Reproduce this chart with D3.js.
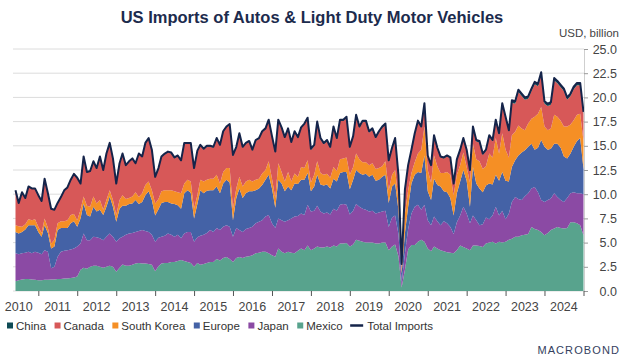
<!DOCTYPE html>
<html>
<head>
<meta charset="utf-8">
<script src="https://cdn.jsdelivr.net/npm/d3@7"></script>
<style>
  body { margin: 0; background: #fff; }
  svg { font-family: "Liberation Sans", Arial, sans-serif; }
</style>
</head>
<body>
<svg id="chart" width="624" height="361"></svg>
<script>
// US imports of autos & light duty motor vehicles, USD billion, monthly May 2010 - Dec 2024
const firstMonth = new Date(2010, 4, 1);
const lastMonthEnd = new Date(2025, 0, 1);

const mexico = [
  1.0, 1.1, 1.2, 1.25, 1.25, 1.2, 1.15, 1.1, 1.1, 1.15,
  1.15, 1.2, 1.2, 1.25, 1.25, 1.3, 1.3, 1.35, 1.4, 1.5,
  2.2, 2.4, 2.3, 2.5, 2.6, 2.6, 2.5, 2.4, 2.5, 2.6,
  2.5, 2.0, 2.4, 2.75, 2.6, 2.6, 2.7, 2.85, 2.9, 2.85,
  2.85, 2.8, 2.7, 2.05, 2.55, 2.85, 2.9, 2.9, 3.0, 3.0,
  3.1, 3.2, 3.1, 3.0, 2.9, 2.5, 2.9, 2.7, 2.8, 2.9,
  3.0, 3.0, 3.3, 3.15, 3.4, 3.5, 3.3, 3.0, 3.4, 3.5,
  3.4, 3.55, 3.6, 3.7, 3.9, 3.95, 4.05, 4.05, 3.9, 3.7,
  3.55, 4.4, 4.05, 3.9, 4.05, 3.95, 3.9, 4.15, 4.4, 4.2,
  4.7, 4.2, 4.4, 4.6, 4.5, 4.5, 4.6, 4.5, 4.7, 4.6,
  4.9, 4.9, 4.95, 4.6, 4.8, 5.3, 5.2, 5.1, 5.0, 5.0,
  5.0, 4.9, 4.9, 5.0, 5.0, 4.2, 4.6, 4.8, 3.6, 0.35,
  2.2, 4.3, 4.75, 4.75, 5.1, 5.3, 5.1, 4.4, 4.1, 4.6,
  4.4, 4.2, 4.1, 4.0, 3.95, 3.9, 4.2, 4.7, 4.55, 4.4,
  4.2, 4.7, 4.7, 4.65, 4.55, 4.9, 5.0, 5.1, 4.9, 5.1,
  5.0, 5.1, 5.3, 5.4, 5.6, 5.6, 5.75, 5.8, 5.9, 6.6,
  6.4, 6.3, 6.1, 5.75, 6.0, 6.3, 6.45, 6.6, 6.5, 6.45,
  6.5, 7.1, 7.1, 7.0, 6.8, 5.75
];

const japan = [
  2.9, 2.7, 2.7, 2.7, 2.8, 2.7, 2.9, 2.85, 2.7, 3.05,
  2.9, 1.15, 1.3, 2.3, 2.8, 2.85, 2.9, 2.95, 3.0, 3.1,
  2.7, 3.55, 2.95, 2.75, 3.0, 2.95, 2.95, 2.85, 3.1, 3.35,
  3.1, 3.1, 3.05, 2.85, 3.2, 3.35, 3.3, 3.25, 3.3, 3.45,
  3.35, 3.3, 3.1, 3.05, 2.95, 2.75, 2.8, 3.05, 2.8, 2.6,
  2.7, 2.25, 2.85, 3.1, 3.2, 2.6, 2.65, 3.0, 3.0, 3.1,
  3.3, 3.1, 3.2, 3.15, 3.25, 3.3, 3.35, 2.6, 3.1, 2.8,
  2.7, 2.85, 2.9, 2.95, 3.1, 3.2, 3.25, 3.65, 3.95, 3.3,
  2.95, 3.1, 3.25, 3.25, 3.25, 3.55, 3.8, 3.6, 3.6, 3.65,
  4.2, 4.0, 3.9, 4.2, 3.7, 3.5, 3.5, 3.4, 3.8, 3.7,
  4.0, 4.1, 3.95, 3.3, 3.5, 3.7, 3.5, 3.4, 3.4, 3.2,
  3.3, 3.1, 3.2, 3.2, 3.3, 2.4, 3.0, 3.0, 2.3, 0.5,
  1.7, 2.1, 3.25, 3.95, 3.8, 3.1, 3.8, 2.9, 2.7, 3.1,
  2.8, 2.6, 3.1, 3.0, 2.65, 2.0, 2.9, 3.1, 4.15, 3.6,
  2.8, 3.1, 2.6, 2.15, 2.35, 2.7, 2.4, 2.7, 3.8, 2.7,
  3.3, 2.3, 2.7, 3.8, 4.1, 3.9, 3.65, 4.0, 4.2, 4.0,
  4.35, 3.9, 3.3, 3.45, 3.4, 3.25, 3.65, 3.1, 2.9, 2.75,
  3.1, 3.0, 3.1, 3.1, 3.3, 4.25
];

const europe = [
  2.2, 2.15, 2.2, 2.4, 2.75, 2.9, 2.75, 2.15, 1.8, 2.6,
  1.95, 2.05, 2.1, 2.75, 2.45, 2.35, 2.3, 2.7, 2.8, 2.05,
  2.6, 3.1, 2.6, 2.45, 3.1, 2.65, 2.95, 2.6, 3.1, 3.8,
  3.1, 2.05, 3.05, 3.2, 3.0, 3.05, 3.05, 3.3, 2.8, 2.9,
  3.7, 4.2, 3.6, 2.7, 2.95, 3.5, 3.5, 3.25, 3.25, 3.4,
  3.05, 3.05, 4.15, 4.3, 4.05, 2.4, 3.45, 4.7, 4.3, 4.35,
  4.1, 4.3, 4.3, 3.8, 4.45, 4.7, 4.55, 1.7, 3.1, 4.3,
  3.5, 3.7, 3.8, 3.65, 3.4, 3.45, 3.65, 3.8, 4.15, 3.6,
  2.1, 4.0, 3.8, 3.15, 3.5, 2.9, 3.4, 3.3, 3.5, 3.65,
  3.3, 2.1, 2.5, 3.2, 2.8, 2.9, 2.9, 2.7, 3.1, 3.0,
  3.3, 3.3, 3.4, 2.6, 3.2, 3.5, 3.5, 3.5, 3.7, 3.6,
  3.7, 3.4, 3.4, 3.6, 3.7, 2.5, 3.2, 3.3, 2.5, 0.95,
  2.1, 2.3, 3.1, 3.3, 3.4, 3.8, 5.1, 3.0, 2.6, 3.9,
  3.75, 4.0, 3.1, 3.2, 3.0, 1.9, 3.0, 3.5, 3.8, 3.4,
  1.7, 5.0, 3.8, 3.8, 3.3, 3.3, 3.7, 3.2, 3.3, 3.6,
  4.0, 4.0, 3.3, 3.6, 3.8, 4.5, 4.9, 4.75, 4.8, 4.6,
  3.85, 4.6, 6.2, 5.7, 5.2, 5.15, 5.1, 5.5, 5.4, 4.7,
  4.1, 4.1, 4.7, 5.4, 5.7, 2.6
];

const southKorea = [
  0.7, 0.75, 0.55, 0.55, 0.6, 0.5, 0.6, 0.55, 0.4, 0.7,
  0.5, 0.5, 0.7, 0.7, 0.7, 0.7, 0.8, 0.85, 0.75, 0.65,
  0.9, 0.7, 0.95, 1.0, 1.05, 0.85, 1.0, 0.55, 0.7, 0.65,
  0.7, 0.7, 0.9, 1.1, 0.7, 0.6, 0.7, 0.8, 0.7, 0.9,
  1.05, 1.0, 1.0, 1.25, 1.05, 1.2, 1.2, 1.2, 1.35, 1.3,
  1.35, 1.6, 1.0, 1.1, 1.15, 1.0, 0.9, 1.1, 1.2, 1.15,
  1.2, 1.2, 1.2, 1.0, 1.2, 1.2, 1.5, 1.2, 1.0, 1.2,
  1.2, 1.2, 1.2, 1.0, 1.1, 1.0, 1.2, 1.0, 1.4, 1.0,
  1.0, 1.7, 1.2, 1.0, 1.5, 0.9, 1.05, 0.75, 1.3, 1.2,
  1.3, 0.9, 1.2, 1.4, 1.2, 1.1, 1.1, 1.1, 1.2, 1.1,
  1.4, 1.4, 1.5, 1.5, 1.3, 1.7, 1.4, 1.3, 1.2, 1.2,
  1.2, 1.2, 1.2, 1.1, 1.4, 1.3, 1.2, 1.4, 1.1, 0.4,
  2.0, 1.7, 1.1, 1.3, 1.9, 2.4, 3.0, 2.2, 1.8, 2.4,
  1.95, 1.4, 1.9, 2.1, 2.4, 2.1, 1.9, 1.7, 1.8, 1.4,
  2.5, 2.4, 2.5, 2.8, 2.4, 2.0, 3.1, 2.8, 3.8, 2.8,
  4.0, 3.2, 2.5, 3.3, 2.95, 3.1, 2.5, 2.05, 2.4, 2.6,
  3.4, 3.5, 3.4, 2.1, 2.0, 2.1, 3.0, 2.8, 2.8, 3.1,
  3.3, 3.0, 2.75, 2.7, 2.5, 2.9
];

const canada = [
  3.55, 2.35, 3.5, 2.65, 3.35, 3.25, 3.15, 3.2, 3.25, 4.05,
  3.55, 3.55, 3.05, 2.05, 2.45, 3.15, 3.35, 3.6, 4.1, 4.35,
  2.65, 4.1, 3.45, 3.65, 3.6, 3.6, 4.45, 4.05, 4.75, 4.85,
  4.25, 3.2, 3.75, 4.25, 3.45, 3.75, 3.9, 2.95, 4.45, 3.75,
  4.3, 4.45, 4.15, 2.7, 3.15, 3.5, 3.7, 3.9, 3.8, 3.4,
  3.7, 3.3, 4.1, 3.7, 3.9, 4.1, 4.5, 3.5, 3.3, 3.4,
  3.3, 3.2, 3.7, 3.9, 4.1, 4.2, 4.45, 5.45, 4.2, 4.4,
  4.0, 3.9, 3.9, 3.2, 4.0, 4.1, 4.25, 4.2, 4.2, 4.3,
  4.7, 4.4, 4.5, 4.5, 4.4, 4.0, 4.25, 4.0, 4.0, 4.5,
  4.3, 3.35, 2.95, 3.95, 3.45, 3.15, 3.35, 3.05, 4.05, 3.25,
  3.95, 3.85, 4.05, 2.75, 3.05, 3.85, 3.25, 4.15, 4.15, 3.35,
  3.45, 3.15, 3.65, 3.95, 3.75, 2.95, 2.65, 3.15, 2.35, 0.55,
  2.4, 2.5, 2.3, 2.9, 3.3, 2.3, 2.3, 1.4, 1.7, 2.0,
  1.8, 1.6, 1.5, 1.6, 1.7, 1.1, 1.5, 1.5, 1.4, 1.7,
  1.2, 1.65, 1.85, 1.95, 1.45, 1.55, 1.75, 1.65, 1.75, 1.95,
  2.95, 3.25, 2.65, 3.35, 2.9, 3.45, 3.35, 3.15, 2.55, 2.85,
  3.35, 2.85, 3.35, 2.35, 2.5, 2.45, 3.55, 3.45, 3.45, 3.65,
  2.75, 2.95, 3.2, 3.05, 2.95, 2.75
];

const china = [
  0.05, 0.05, 0.05, 0.05, 0.05, 0.05, 0.05, 0.05, 0.05, 0.05,
  0.05, 0.05, 0.05, 0.05, 0.05, 0.05, 0.05, 0.05, 0.05, 0.05,
  0.05, 0.05, 0.05, 0.05, 0.05, 0.05, 0.05, 0.05, 0.05, 0.05,
  0.05, 0.05, 0.05, 0.05, 0.05, 0.05, 0.05, 0.05, 0.05, 0.05,
  0.05, 0.05, 0.05, 0.05, 0.05, 0.1, 0.1, 0.1, 0.1, 0.1,
  0.1, 0.1, 0.1, 0.1, 0.1, 0.1, 0.1, 0.1, 0.1, 0.1,
  0.1, 0.1, 0.1, 0.1, 0.1, 0.1, 0.1, 0.1, 0.1, 0.1,
  0.1, 0.1, 0.1, 0.1, 0.1, 0.1, 0.1, 0.1, 0.1, 0.1,
  0.1, 0.1, 0.1, 0.1, 0.1, 0.1, 0.1, 0.1, 0.1, 0.1,
  0.1, 0.15, 0.15, 0.15, 0.15, 0.15, 0.15, 0.15, 0.15, 0.15,
  0.15, 0.15, 0.15, 0.15, 0.15, 0.15, 0.15, 0.15, 0.15, 0.15,
  0.15, 0.15, 0.15, 0.15, 0.15, 0.15, 0.15, 0.15, 0.15, 0.05,
  0.1, 0.1, 0.1, 0.1, 0.1, 0.1, 0.1, 0.1, 0.1, 0.1,
  0.1, 0.1, 0.1, 0.1, 0.1, 0.1, 0.1, 0.1, 0.1, 0.1,
  0.1, 0.15, 0.15, 0.15, 0.15, 0.15, 0.15, 0.15, 0.15, 0.15,
  0.15, 0.15, 0.15, 0.25, 0.25, 0.25, 0.25, 0.25, 0.25, 0.25,
  0.25, 0.25, 0.25, 0.25, 0.25, 0.25, 0.25, 0.25, 0.25, 0.25,
  0.25, 0.25, 0.25, 0.25, 0.25, 0.25
];

const yTicks = [0, 2.5, 5, 7.5, 10, 12.5, 15, 17.5, 20, 22.5, 25];
const yearLabels = [2010, 2011, 2012, 2013, 2014, 2015, 2016, 2017, 2018, 2019, 2020, 2021, 2022, 2023, 2024];

// stacking order, bottom to top
const layers = [
  { key: "Mexico", values: mexico, color: "#58a38d" },
  { key: "Japan", values: japan, color: "#8b4aa4" },
  { key: "Europe", values: europe, color: "#4462a6" },
  { key: "South Korea", values: southKorea, color: "#f58f25" },
  { key: "Canada", values: canada, color: "#d75858" },
  { key: "China", values: china, color: "#0e4b55" }
];
const legendOrder = ["China", "Canada", "South Korea", "Europe", "Japan", "Mexico"];
const lineColor = "#15244a";

const months = d3.timeMonth.range(firstMonth, lastMonthEnd);
const rows = months.map((m, i) => {
  const r = { date: d3.timeMonth.offset(m, 1) }; // plotted at period end
  layers.forEach(l => { r[l.key] = l.values[i]; });
  return r;
});

const svg = d3.select("#chart");

const x = d3.scaleTime()
  .domain([rows[0].date, rows[rows.length - 1].date])
  .range([15.5, 583.5]);
const y = d3.scaleLinear().domain([0, 25]).range([291, 49]);

// gridlines
svg.append("g")
  .selectAll("line")
  .data(yTicks)
  .enter()
  .append("line")
  .attr("x1", 13).attr("x2", 584)
  .attr("y1", d => y(d)).attr("y2", d => y(d))
  .attr("stroke", "#dcdcdc")
  .attr("stroke-width", 1);

// stacked areas
const stack = d3.stack().keys(layers.map(l => l.key));
const series = stack(rows);

const area = d3.area()
  .x(d => x(d.data.date))
  .y0(d => y(d[0]))
  .y1(d => y(d[1]));

svg.append("g")
  .selectAll("path")
  .data(series)
  .enter()
  .append("path")
  .attr("d", area)
  .attr("fill", (d, i) => layers[i].color);

// total imports line = top of the stack
const topLayer = series[series.length - 1];
const totalLine = d3.line()
  .x(d => x(d.data.date))
  .y(d => y(d[1]));

svg.append("path")
  .datum(topLayer)
  .attr("d", totalLine)
  .attr("fill", "none")
  .attr("stroke", lineColor)
  .attr("stroke-width", 2)
  .attr("stroke-linejoin", "round");

// right y axis
const yAxis = svg.append("g")
  .attr("transform", "translate(584,0)")
  .call(d3.axisRight(y).tickValues(yTicks).tickFormat(d3.format(".1f")).tickSize(4).tickPadding(0));
yAxis.select(".domain").attr("stroke", "#cfcfcf");
yAxis.selectAll(".tick line").attr("stroke", "#9a9a9a");
yAxis.selectAll(".tick text")
  .attr("x", 33)
  .attr("text-anchor", "end")
  .attr("fill", "#444")
  .style("font-size", "12.5px")
  .style("font-family", "Liberation Sans, Arial, sans-serif");

svg.append("text")
  .attr("x", 619).attr("y", 37)
  .attr("text-anchor", "end")
  .attr("fill", "#444")
  .style("font-size", "11.5px")
  .text("USD, billion");

// bottom x axis: year ticks at boundaries, labels mid-year
const xAxis = svg.append("g")
  .attr("transform", "translate(0,291)")
  .call(d3.axisBottom(x).ticks(d3.timeYear.every(1)).tickFormat("").tickSize(5));
xAxis.select(".domain").remove();
xAxis.selectAll(".tick line").attr("stroke", "#555");

svg.append("g")
  .selectAll("text")
  .data(yearLabels)
  .enter()
  .append("text")
  .attr("x", d => x(new Date(d, 6, 1)))
  .attr("y", 311)
  .attr("text-anchor", "middle")
  .attr("fill", "#444")
  .style("font-size", "12.5px")
  .text(d => d);

// title
svg.append("text")
  .attr("x", 312).attr("y", 23)
  .attr("text-anchor", "middle")
  .attr("fill", "#1c2b4d")
  .style("font-size", "16.5px")
  .style("font-weight", "bold")
  .text("US Imports of Autos & Light Duty Motor Vehicles");

// legend
const legend = svg.append("g").attr("transform", "translate(7,326)");
let lx = 0;
legendOrder.forEach(k => {
  const l = layers.find(d => d.key === k);
  legend.append("rect")
    .attr("x", lx).attr("y", -3.5)
    .attr("width", 6).attr("height", 6)
    .attr("fill", l.color);
  const t = legend.append("text")
    .attr("x", lx + 9).attr("y", 4)
    .attr("fill", "#333")
    .style("font-size", "11.5px")
    .text(k);
  lx += 9 + t.node().getComputedTextLength() + 8.5;
});
legend.append("line")
  .attr("x1", lx - 1).attr("x2", lx + 12)
  .attr("y1", -0.5).attr("y2", -0.5)
  .attr("stroke", lineColor)
  .attr("stroke-width", 2.5);
legend.append("text")
  .attr("x", lx + 16).attr("y", 4)
  .attr("fill", "#333")
  .style("font-size", "11.5px")
  .text("Total Imports");

// logo
svg.append("text")
  .attr("x", 620).attr("y", 354)
  .attr("text-anchor", "end")
  .attr("fill", "#34415e")
  .style("font-size", "11px")
  .style("letter-spacing", "1.1px")
  .text("MACROBOND");
</script>
</body>
</html>
